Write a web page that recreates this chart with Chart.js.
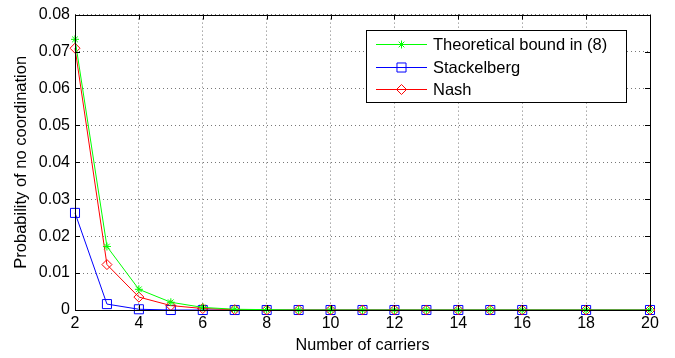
<!DOCTYPE html>
<html>
<head>
<meta charset="utf-8">
<script src="https://cdn.jsdelivr.net/npm/chart.js@4"></script>
<style>
    body { margin: 0; background: #fff; }
    #chartContainer { display: block; }
</style>
</head>
<body>
<canvas id="chartContainer" width="675" height="358"></canvas>
<script>
// Data
const carriers = [2, 3, 4, 5, 6, 7, 8, 9, 10, 11, 12, 13, 14, 15, 16, 18, 20];
const theoreticalBound = [0.0733, 0.0172, 0.0056, 0.0021, 0.0007, 0.0002, 0.0001, 0, 0, 0, 0, 0, 0, 0, 0, 0, 0];
const stackelberg = [0.0263, 0.0016, 0.0002, 0, 0, 0, 0, 0, 0, 0, 0, 0, 0, 0, 0, 0, 0];
const nash = [0.0709, 0.0123, 0.0035, 0.0012, 0.0004, 0.0001, 0, 0, 0, 0, 0, 0, 0, 0, 0, 0, 0];
const seriesNames = ['Theoretical bound in (8)', 'Stackelberg', 'Nash'];
const seriesColors = ['#00ff00', '#0000ff', '#ff0000'];
const seriesMarkers = ['star', 'rect', 'rectRot'];
const markerSizes = [4, 6.4, 5];

const FONT = "'Liberation Sans', Arial, Helvetica, sans-serif";
Chart.defaults.font.family = FONT;
Chart.defaults.color = '#000';

function toPoints(ys) {
    return carriers.map((x, i) => ({ x: x, y: ys[i] }));
}

// box, inward ticks and the legend drawn like a matlab figure
const matlabFrame = {
    id: 'matlabFrame',
    afterDraw(chart) {
        const ctx = chart.ctx;
        const area = chart.chartArea;
        const xs = chart.scales.x;
        const ys = chart.scales.y;
        ctx.save();
        ctx.strokeStyle = '#000';
        ctx.lineWidth = 1;
        ctx.setLineDash([]);
        ctx.beginPath();
        xs.ticks.forEach(t => {
            const px = Math.round(xs.getPixelForValue(t.value)) + 0.5;
            ctx.moveTo(px, area.bottom); ctx.lineTo(px, area.bottom - 5);
            ctx.moveTo(px, area.top); ctx.lineTo(px, area.top + 5);
        });
        ys.ticks.forEach(t => {
            const py = Math.round(ys.getPixelForValue(t.value)) + 0.5;
            ctx.moveTo(area.left, py); ctx.lineTo(area.left + 5, py);
            ctx.moveTo(area.right, py); ctx.lineTo(area.right - 5, py);
        });
        ctx.stroke();
        ctx.strokeRect(Math.round(area.left) + 0.5, Math.round(area.top) + 0.5,
            Math.round(area.right - area.left), Math.round(area.bottom - area.top));

        // legend box
        const lx = 366.5, ly = 30.5, lw = 260, lh = 72;
        ctx.fillStyle = '#fff';
        ctx.fillRect(lx, ly, lw, lh);
        ctx.strokeRect(lx, ly, lw, lh);
        const rows = [44, 67, 89];
        ctx.font = '16.5px ' + FONT;
        ctx.textBaseline = 'middle';
        seriesNames.forEach((name, i) => {
            const y = rows[i];
            ctx.fillStyle = seriesColors[i];
            ctx.fillRect(376, y, 51, 1);
            ctx.fillStyle = '#000';
            ctx.fillText(name, 433, y + 1.5);
        });
        seriesNames.forEach((name, i) => {
            ctx.save();
            ctx.fillStyle = 'rgba(255,255,255,0)';
            ctx.strokeStyle = seriesColors[i];
            ctx.lineWidth = 1;
            Chart.helpers.drawPoint(ctx, {
                pointStyle: seriesMarkers[i],
                radius: markerSizes[i],
                borderWidth: 1,
                rotation: 0
            }, 401.5, rows[i] + 0.5);
            ctx.restore();
        });
        ctx.restore();
    }
};

document.addEventListener('DOMContentLoaded', function () {
    const ctx = document.getElementById('chartContainer').getContext('2d');
    const seriesData = [theoreticalBound, stackelberg, nash];
    const drawOrder = [0, 2, 1];
    new Chart(ctx, {
        type: 'line',
        data: {
            datasets: seriesData.map((ys, i) => ({
                label: seriesNames[i],
                data: toPoints(ys),
                borderColor: seriesColors[i],
                backgroundColor: 'rgba(0,0,0,0)',
                pointStyle: seriesMarkers[i],
                pointRadius: markerSizes[i],
                order: drawOrder[i]
            }))
        },
        options: {
            responsive: false,
            animation: false,
            clip: false,
            elements: {
                line: { borderWidth: 1, tension: 0 },
                point: { borderWidth: 1, hoverRadius: 5 }
            },
            layout: {
                padding: { left: 12, top: 12, right: 25, bottom: 3 }
            },
            scales: {
                x: {
                    type: 'linear',
                    min: 2,
                    max: 20,
                    ticks: { stepSize: 2, font: { size: 16 }, padding: 4, maxRotation: 0 },
                    grid: { color: '#777', drawTicks: false },
                    border: { display: false, dash: [1, 3] },
                    title: { display: true, text: 'Number of carriers', font: { size: 16.2 }, padding: { top: 0, bottom: 0 } },
                    afterFit(scale) { scale.height = 45; }
                },
                y: {
                    type: 'linear',
                    min: 0,
                    max: 0.08,
                    ticks: {
                        stepSize: 0.01,
                        font: { size: 16 },
                        padding: 5,
                        callback: v => (Math.abs(v) < 1e-9 ? '0' : v.toFixed(2))
                    },
                    grid: { color: '#777', drawTicks: false },
                    border: { display: false, dash: [1, 3] },
                    title: { display: true, text: 'Probability of no coordination', font: { size: 16.5 }, padding: { top: 0, bottom: 0 } },
                    afterFit(scale) { scale.width = 63; }
                }
            },
            plugins: {
                legend: { display: false },
                tooltip: { enabled: false }
            }
        },
        plugins: [matlabFrame]
    });
});
</script>
</body>
</html>
